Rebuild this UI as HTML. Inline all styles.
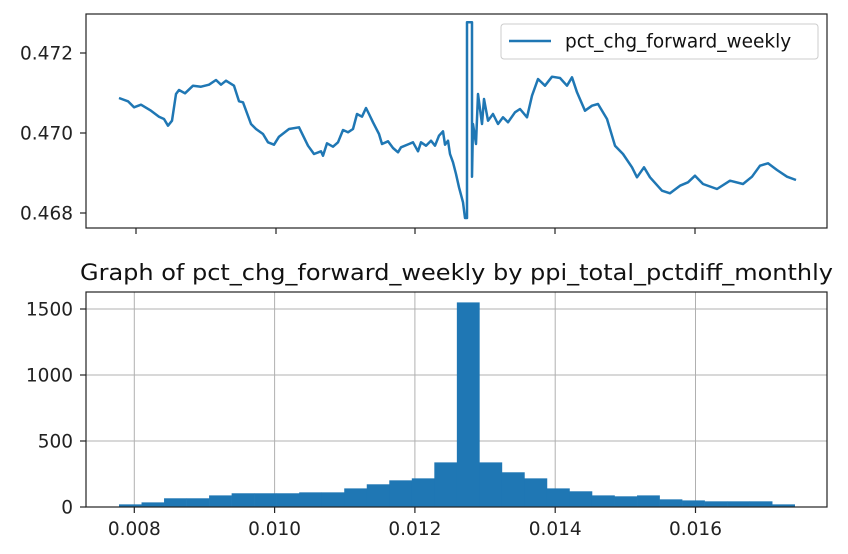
<!DOCTYPE html>
<html><head><meta charset="utf-8"><style>
html,body{margin:0;padding:0;background:#fff;}
svg{display:block;font-family:"DejaVu Sans","Liberation Sans",sans-serif;}
</style></head><body>
<svg id="chart" width="848" height="554" viewBox="0 0 848 554">
<g id="topPanel"></g>
<g id="botPanel"></g>
</svg>
<script>
// ---- top line chart data ----
const weeks = [0,9,15,22,32,40,45,49,53,57,60,66,74,82,90,97,102,107,115,120,124,132,137,144,149,155,160,170,180,189,195,202,204,208,214,219,224,229,234,238,243,247,250,254,260,263,269,274,279,282,290,294,299,302,307,312,316,320,324,326,329,331,334,337,340,344,346,348,348,353,353,354,357,359,363,365,369,374,379,384,389,396,401,408,413,419,426,433,441,448,453,458,466,473,479,488,496,504,513,518,525,531,543,551,561,569,576,584,598,611,624,633,641,649,658,668,677];
const pctChg = [0.470875,0.470792,0.470642,0.470708,0.470558,0.470408,0.470350,0.470183,0.470308,0.470975,0.471075,0.470992,0.471183,0.471158,0.471208,0.471325,0.471208,0.471308,0.471183,0.470792,0.470767,0.470225,0.470100,0.469975,0.469767,0.469708,0.469908,0.470100,0.470142,0.469683,0.469475,0.469542,0.469433,0.469742,0.469658,0.469767,0.470075,0.470017,0.470100,0.470475,0.470408,0.470625,0.470475,0.470267,0.469975,0.469725,0.469792,0.469625,0.469517,0.469642,0.469725,0.469767,0.469542,0.469767,0.469683,0.469808,0.469683,0.469933,0.470042,0.469708,0.469808,0.469475,0.469267,0.468975,0.468642,0.468267,0.467875,0.467875,0.472767,0.472767,0.468908,0.470225,0.469725,0.470975,0.470225,0.470850,0.470308,0.470475,0.470225,0.470392,0.470267,0.470517,0.470600,0.470392,0.470933,0.471350,0.471183,0.471408,0.471375,0.471183,0.471392,0.471017,0.470558,0.470683,0.470725,0.470350,0.469683,0.469475,0.469142,0.468892,0.469142,0.468892,0.468558,0.468492,0.468683,0.468767,0.468933,0.468725,0.468600,0.468808,0.468725,0.468908,0.469183,0.469242,0.469075,0.468908,0.468825];
const topYTicks = [0.468,0.470,0.472];
const topXTicks = [17,157,296,436,576];
// ---- histogram data ----
const histCounts = [20,35,66,66,88,104,104,104,111,111,141,172,202,217,338,1550,338,263,217,141,119,88,81,88,58,50,43,43,43,20];
const histStart = 0.007782;
const histEnd = 0.017414;
const histXTicks = [0.008,0.010,0.012,0.014,0.016];
const histYTicks = [0,500,1000,1500];

const NS="http://www.w3.org/2000/svg";
function mk(parent,tag,attrs,text){const e=document.createElementNS(NS,tag);for(const k in attrs)e.setAttribute(k,attrs[k]);if(text!==undefined)e.textContent=text;parent.appendChild(e);return e;}

// top axes
const TA={l:86,r:827,t:14,b:228};
const tx=t=>TA.l+(t+33)*(TA.r-TA.l)/741;
const ty=v=>TA.b-(v-0.467625)*(TA.b-TA.t)/(0.472975-0.467625);
const topG=document.getElementById('topPanel');
let d='';const n=Math.min(weeks.length,pctChg.length);
for(let i=0;i<n;i++){d+=(i?'L':'M')+tx(weeks[i]).toFixed(1)+','+ty(pctChg[i]).toFixed(1);}
const ln=mk(topG,'path',{d:d,fill:'none',stroke:'#1f77b4','stroke-width':2.5,'stroke-linejoin':'round'});


mk(topG,'rect',{x:TA.l,y:TA.t,width:TA.r-TA.l,height:TA.b-TA.t,fill:'none',stroke:'#222','stroke-width':1.2,});
topYTicks.forEach(v=>{const y=ty(v);mk(topG,'line',{x1:TA.l-6,x2:TA.l,y1:y,y2:y,stroke:'#222','stroke-width':1.2});
 const tl=mk(topG,'text',{x:TA.l-13,y:y+6.5,'text-anchor':'end','font-size':18.5,fill:'#222'},v.toFixed(3));
 
 });
topXTicks.forEach(t=>{const x=tx(t);mk(topG,'line',{x1:x,x2:x,y1:TA.b,y2:TA.b+6,stroke:'#222','stroke-width':1.2});});
// legend
const lg=mk(topG,'g',{});
mk(lg,'rect',{x:501,y:24,width:317,height:35,rx:3,fill:'#fff',stroke:'#ccc','stroke-width':1});
mk(lg,'line',{x1:509,x2:551,y1:41,y2:41,stroke:'#1f77b4','stroke-width':2.5});
mk(lg,'text',{x:565,y:47.5,'font-size':18.5,fill:'#111',},'pct_chg_forward_weekly');

// histogram axes
const BA={l:86,r:827,t:292,b:507};
const bx=v=>134.3+(v-0.008)*70150;
const by=c=>BA.b-c*0.132;
const botG=document.getElementById('botPanel');
histYTicks.forEach(c=>{const y=by(c);mk(botG,'line',{x1:BA.l,x2:BA.r,y1:y,y2:y,stroke:'#b0b0b0','stroke-width':1});});
histXTicks.forEach(v=>{const x=bx(v);mk(botG,'line',{x1:x,x2:x,y1:BA.t,y2:BA.b,stroke:'#b0b0b0','stroke-width':1});});
const bw=(histEnd-histStart)/histCounts.length;
histCounts.forEach((c,i)=>{const x0=bx(histStart+i*bw),x1=bx(histStart+(i+1)*bw);
 const r=mk(botG,'rect',{x:x0,y:by(c),width:x1-x0+0.3,height:BA.b-by(c),fill:'#1f77b4'});
 
 });
mk(botG,'rect',{x:BA.l,y:BA.t,width:BA.r-BA.l,height:BA.b-BA.t,fill:'none',stroke:'#222','stroke-width':1.2,});
histYTicks.forEach(c=>{const y=by(c);mk(botG,'line',{x1:BA.l-6,x2:BA.l,y1:y,y2:y,stroke:'#222','stroke-width':1.2});
 const tl=mk(botG,'text',{x:BA.l-13,y:y+6.5,'text-anchor':'end','font-size':18.5,fill:'#222'},String(c));
 
 });
histXTicks.forEach(v=>{const x=bx(v);mk(botG,'line',{x1:x,x2:x,y1:BA.b,y2:BA.b+6,stroke:'#222','stroke-width':1.2});
 const tl=mk(botG,'text',{x:x,y:BA.b+28,'text-anchor':'middle','font-size':18.5,fill:'#222'},v.toFixed(3));
 
 });
mk(botG,'text',{x:80,y:280,'font-size':22,textLength:753,lengthAdjust:'spacingAndGlyphs',fill:'#111',},'Graph of pct_chg_forward_weekly by ppi_total_pctdiff_monthly');
</script>
</body></html>
